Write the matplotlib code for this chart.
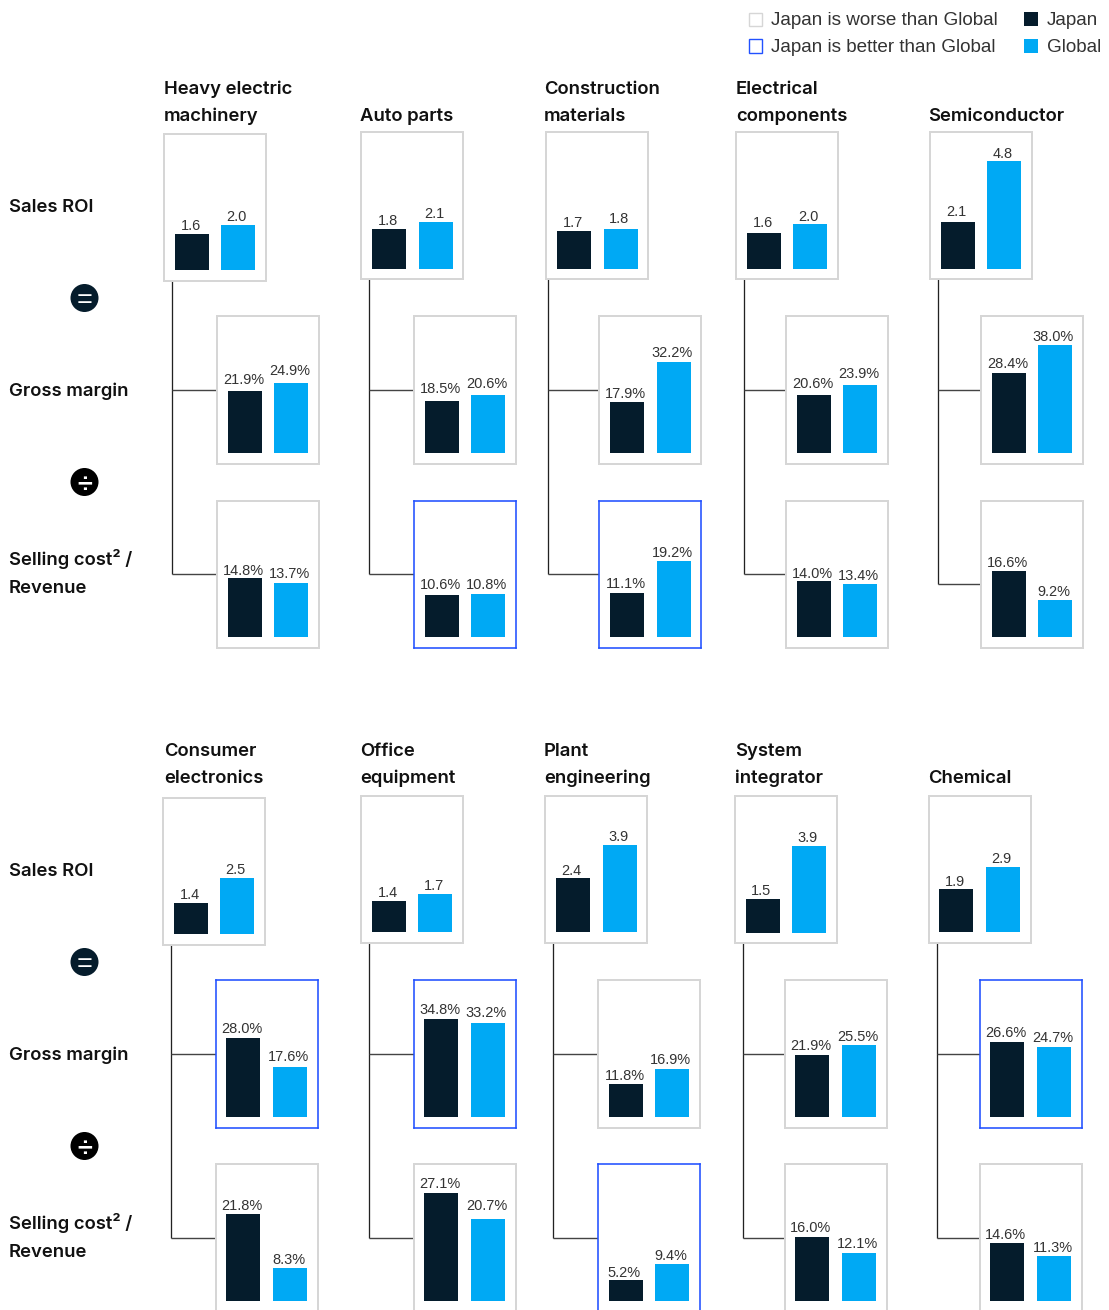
import matplotlib
matplotlib.use('Agg')
import matplotlib.pyplot as plt
from matplotlib.patches import Rectangle, Circle

W, H = 1109, 1310
NAVY = '#051c2c'
CYAN = '#00a9f4'
GREY_EDGE = '#d6d6d6'
BLUE_EDGE = '#2251ff'

# Industries, one list per block of panels
top_names = ['Heavy electric\nmachinery', 'Auto parts', 'Construction\nmaterials',
             'Electrical\ncomponents', 'Semiconductor']
bottom_names = ['Consumer\nelectronics', 'Office\nequipment', 'Plant\nengineering',
                'System\nintegrator', 'Chemical']

# Values read per metric: Japan, then Global
top_roi_japan = [1.6, 1.8, 1.7, 1.6, 2.1]
top_roi_global = [2.0, 2.1, 1.8, 2.0, 4.8]
top_margin_japan = [21.9, 18.5, 17.9, 20.6, 28.4]
top_margin_global = [24.9, 20.6, 32.2, 23.9, 38.0]
top_cost_japan = [14.8, 10.6, 11.1, 14.0, 16.6]
top_cost_global = [13.7, 10.8, 19.2, 13.4, 9.2]

bottom_roi_japan = [1.4, 1.4, 2.4, 1.5, 1.9]
bottom_roi_global = [2.5, 1.7, 3.9, 3.9, 2.9]
bottom_margin_japan = [28.0, 34.8, 11.8, 21.9, 26.6]
bottom_margin_global = [17.6, 33.2, 16.9, 25.5, 24.7]
bottom_cost_japan = [21.8, 27.1, 5.2, 16.0, 14.6]
bottom_cost_global = [8.3, 20.7, 9.4, 12.1, 11.3]

# Panels where Japan beats Global get the blue frame
top_margin_better = [False, False, False, False, False]
top_cost_better = [False, True, True, False, False]
bottom_margin_better = [True, True, False, False, True]
bottom_cost_better = [False, False, True, False, False]

row_labels = ['Sales ROI', 'Gross margin', 'Selling cost² /\nRevenue']

# Layout in pixels
BOX_W, BOX_H = 102, 147.5
PX_PER_ROI = 22.4
PX_PER_MARGIN = 2.83
PX_PER_COST = 3.97
HEAD_SIZE = 18.5

# Extra label lift per panel: (Japan, Global) gap above the usual 4 px
top_lift = [
    [(0, 0), (0, 0), (0, 2), (2, -1), (2, -1)],
    [(3, 4), (4, 3), (0, 1), (3, 3), (1, 0)],
    [(-1, 1), (2, 1), (1, 0), (-1, 0), (0, 0)],
]
bottom_lift = [
    [(0, 0), (0, 0), (-1, 0), (0, 0), (-1, 0)],
    [(1, 2), (1, 2), (0, 1), (1, 0), (1, 1)],
    [(0, 0), (1, 5), (-1, 0), (1, 1), (0, 0)],
]

plt.rcParams['font.family'] = ['Inter', 'Liberation Sans', 'DejaVu Sans']

fig = plt.figure(figsize=(W / 100, H / 100), dpi=100, facecolor='white')

# Full-figure axes in pixel units for text, connectors and icons
bg = fig.add_axes([0, 0, 1, 1], zorder=0)
bg.set_xlim(0, W)
bg.set_ylim(H, 0)
bg.axis('off')


def px(size):
    return size * 0.72


def bold_text(x, y, s):
    bg.text(x, y, s, fontsize=px(HEAD_SIZE), fontweight='semibold', color='#111111',
            va='baseline', ha='left')


def panel(left, top, japan, glob, scale, baseline, is_pct, pad, step, lift, better=False):
    ax = fig.add_axes([left / W, 1 - (top + BOX_H) / H, BOX_W / W, BOX_H / H], zorder=2)
    below = top + BOX_H - baseline
    ax.set_ylim(-below / scale, (BOX_H - below) / scale)
    # category 0 is centred pad + 17 px in from the left edge
    start = pad + 17
    ax.set_xlim(-start / step, (BOX_W - start) / step)
    ax.bar([0, 1], [japan, glob], width=34 / step, color=[NAVY, CYAN], linewidth=0)
    for i, v in enumerate([japan, glob]):
        txt = f'{v:.1f}%' if is_pct else f'{v:.1f}'
        ax.annotate(txt, (i, v), xytext=(px(-1.5), px(4 + lift[i])), textcoords='offset points',
                    ha='center', va='baseline', fontsize=px(14.5), color='#333333',
                    family=['Liberation Sans'], annotation_clip=False)
    ax.set_xticks([])
    ax.set_yticks([])
    for s in ax.spines.values():
        s.set_color(BLUE_EDGE if better else GREY_EDGE)
        s.set_linewidth(px(2) if not better else px(1.6))


def block(names, header_x, header_y, roi_left, roi_top, roi_base, sub_left, margin_top, margin_base,
          cost_top, cost_base, trunk_x, trunk_top, branch1, branch2, pads, steps, lifts,
          roi_j, roi_g, mar_j, mar_g, cost_j, cost_g, mar_better, cost_better):
    for i, name in enumerate(names):
        lines = name.split('\n')
        # single-line names sit on the lower header line
        ys = header_y if len(lines) == 2 else header_y[1:]
        for line, y in zip(lines, ys):
            bold_text(header_x[i], y, line)
        panel(roi_left[i], roi_top[i], roi_j[i], roi_g[i], PX_PER_ROI, roi_base[i], False,
              pads[0][i], steps[0][i], lifts[0][i])
        panel(sub_left[i], margin_top, mar_j[i], mar_g[i], PX_PER_MARGIN, margin_base, True,
              pads[1][i], steps[1][i], lifts[1][i], mar_better[i])
        panel(sub_left[i], cost_top, cost_j[i], cost_g[i], PX_PER_COST, cost_base, True,
              pads[1][i], steps[1][i], lifts[2][i], cost_better[i])
        # tree connector from the ROI box to the two driver boxes
        bg.plot([trunk_x[i]] * 2, [trunk_top[i], branch2[i]], color='#222222', lw=px(1.3),
                solid_capstyle='butt')
        bg.plot([trunk_x[i], sub_left[i]], [branch1[i]] * 2, color='#444444', lw=px(1.4), solid_capstyle='butt')
        bg.plot([trunk_x[i], sub_left[i]], [branch2[i]] * 2, color='#444444', lw=px(1.4), solid_capstyle='butt')


block(top_names, [164, 360, 544, 736, 928], [94, 121],
      [164, 361, 546, 736, 930], [133.5, 131.5, 131.5, 131.5, 131.5], [270, 269, 269, 269, 269],
      [217, 414, 599, 786, 981], 316, 453, 500.5, 637,
      [172, 369, 548, 744, 938], [281, 279, 279, 279, 279],
      [390] * 5, [574, 574, 574, 574, 584],
      [[11, 11, 11, 11, 11], [11, 11, 11, 11, 11]],
      [[46, 47, 47, 46, 46], [46, 46, 47, 46, 46]],
      top_lift,
      top_roi_japan, top_roi_global, top_margin_japan, top_margin_global,
      top_cost_japan, top_cost_global, top_margin_better, top_cost_better)

block(bottom_names, [164, 360, 544, 735, 928], [756, 783],
      [163, 361, 545, 735, 929], [797.5, 795.5, 795.5, 795.5, 795.5], [934, 932, 932, 933, 932],
      [216, 414, 598, 785, 980], 980, 1117, 1164, 1301,
      [171, 369, 553, 743, 937], [945, 943, 943, 943, 943],
      [1054] * 5, [1238] * 5,
      [[11, 11, 11, 11, 10], [10, 10, 11, 10, 10]],
      [[46, 46, 47, 46, 47], [47, 47, 46, 47, 47]],
      bottom_lift,
      bottom_roi_japan, bottom_roi_global, bottom_margin_japan, bottom_margin_global,
      bottom_cost_japan, bottom_cost_global, bottom_margin_better, bottom_cost_better)

# Row captions and the equals / divide badges on the left
for y_roi, y_eq, y_gm, y_div, y_cost in [(211.5, 298, 395.5, 482, 565), (875.5, 962, 1059.5, 1146, 1229)]:
    bold_text(9, y_roi, row_labels[0])
    bold_text(9, y_gm, row_labels[1])
    l1, l2 = row_labels[2].split('\n')
    bold_text(9, y_cost, l1)
    bold_text(9, y_cost + 28, l2)
    bg.add_patch(Circle((84.5, y_eq), 14, color=NAVY, lw=0))
    bg.text(84.5, y_eq, '=', color='white', fontsize=px(27), ha='center', va='center_baseline',
            family=['Liberation Sans'])
    bg.add_patch(Circle((84.5, y_div), 14, color='black', lw=0))
    bg.text(84.5, y_div, '÷', color='white', fontsize=px(27), ha='center', va='center_baseline',
            family=['Liberation Sans'], fontweight='bold')

# Legend
bg.add_patch(Rectangle((748.5, 12.5), 13.5, 13.5, fill=False, ec=GREY_EDGE, lw=px(1.4)))
bg.add_patch(Rectangle((748.5, 39), 13.5, 13.5, fill=False, ec=BLUE_EDGE, lw=px(1.4)))
bg.add_patch(Rectangle((1024, 12), 14, 14, fc=NAVY, lw=0))
bg.add_patch(Rectangle((1024, 39), 14, 14, fc=CYAN, lw=0))
for x, y, s in [(771, 25, 'Japan is worse than Global'), (771, 52, 'Japan is better than Global'),
                (1047, 25, 'Japan'), (1047, 52, 'Global')]:
    bg.text(x, y, s, fontsize=px(18.9), color='#333333', va='baseline', ha='left',
            family=['Liberation Sans'])

fig.savefig('out.png', dpi=100)
